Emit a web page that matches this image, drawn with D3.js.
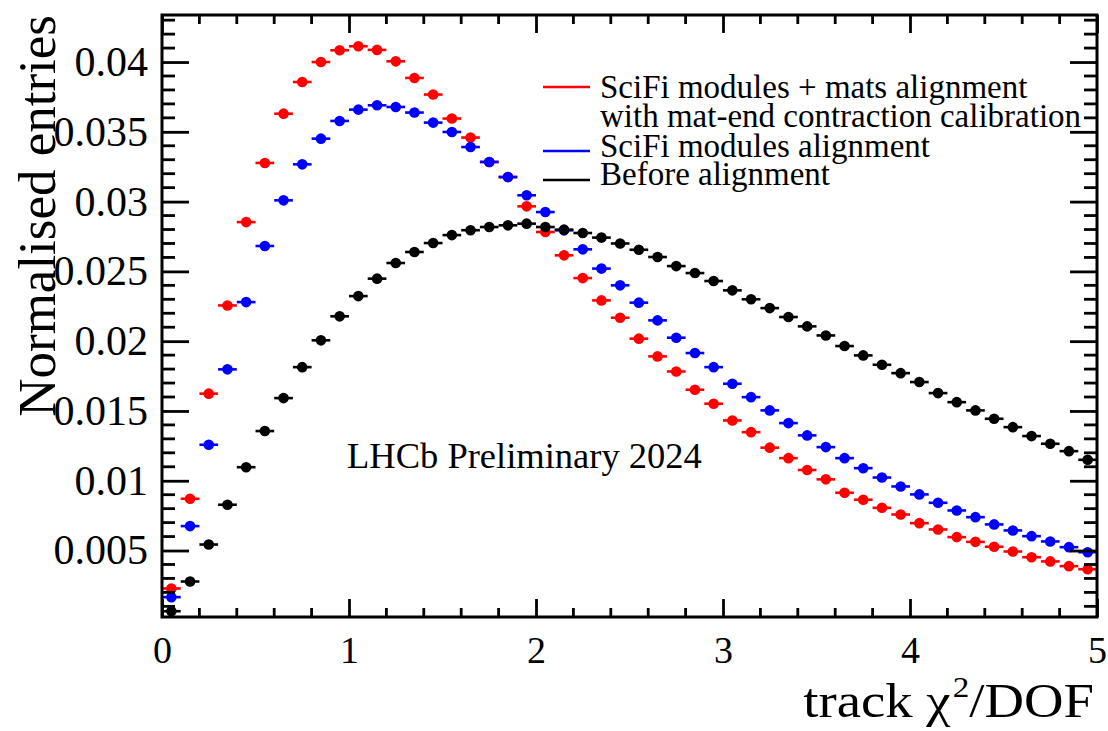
<!DOCTYPE html>
<html>
<head>
<meta charset="utf-8">
<script src="https://cdn.jsdelivr.net/npm/d3@7"></script>
<style>
  html, body { margin: 0; padding: 0; background: #fff; }
  svg { display: block; font-family: "Liberation Serif", "Times New Roman", serif; }
</style>
</head>
<body>
<svg id="chart" width="1108" height="731"></svg>
<script>
// Bin centres of the track chi2/DOF histogram (bin width 0.1)
const binCentres = [0.05, 0.15, 0.25, 0.35, 0.45, 0.55, 0.65, 0.75, 0.85, 0.95,
  1.05, 1.15, 1.25, 1.35, 1.45, 1.55, 1.65, 1.75, 1.85, 1.95,
  2.05, 2.15, 2.25, 2.35, 2.45, 2.55, 2.65, 2.75, 2.85, 2.95,
  3.05, 3.15, 3.25, 3.35, 3.45, 3.55, 3.65, 3.75, 3.85, 3.95,
  4.05, 4.15, 4.25, 4.35, 4.45, 4.55, 4.65, 4.75, 4.85, 4.95];
const binHalfWidth = 0.05;

// Normalised entries per bin
const matsAlignment = [0.00228, 0.00871, 0.01624, 0.02256, 0.02853, 0.03277, 0.03630, 0.03857, 0.04000, 0.04084,
  0.04113, 0.04087, 0.04005, 0.03886, 0.03767, 0.03595, 0.03459, 0.03284, 0.03176, 0.02966,
  0.02782, 0.02615, 0.02452, 0.02292, 0.02168, 0.02018, 0.01891, 0.01783, 0.01652, 0.01552,
  0.01432, 0.01348, 0.01237, 0.01162, 0.01077, 0.01010, 0.00914, 0.00864, 0.00806, 0.00758,
  0.00696, 0.00651, 0.00596, 0.00562, 0.00527, 0.00493, 0.00452, 0.00422, 0.00388, 0.00366];
const modulesAlignment = [0.00166, 0.00675, 0.01258, 0.01798, 0.02280, 0.02682, 0.03009, 0.03267, 0.03451, 0.03578,
  0.03659, 0.03690, 0.03678, 0.03638, 0.03566, 0.03499, 0.03391, 0.03284, 0.03176, 0.03045,
  0.02925, 0.02794, 0.02658, 0.02520, 0.02400, 0.02276, 0.02149, 0.02025, 0.01915, 0.01814,
  0.01695, 0.01599, 0.01504, 0.01413, 0.01325, 0.01241, 0.01162, 0.01090, 0.01023, 0.00959,
  0.00902, 0.00842, 0.00787, 0.00739, 0.00687, 0.00644, 0.00603, 0.00565, 0.00524, 0.00488];
const beforeAlignment = [0.00065, 0.00278, 0.00543, 0.00828, 0.01097, 0.01356, 0.01592, 0.01814, 0.02006, 0.02178,
  0.02323, 0.02448, 0.02560, 0.02639, 0.02703, 0.02760, 0.02795, 0.02818, 0.02830, 0.02842,
  0.02818, 0.02799, 0.02775, 0.02742, 0.02700, 0.02655, 0.02603, 0.02538, 0.02488, 0.02431,
  0.02364, 0.02300, 0.02237, 0.02173, 0.02106, 0.02041, 0.01965, 0.01898, 0.01831, 0.01771,
  0.01707, 0.01628, 0.01563, 0.01504, 0.01444, 0.01384, 0.01320, 0.01265, 0.01212, 0.01150];

// Axis ticks and labels
const xTicks = [0, 1, 2, 3, 4, 5];
const xTickLabels = ["0", "1", "2", "3", "4", "5"];
const xMinorStep = 0.2;
const yTicks = [0.005, 0.01, 0.015, 0.02, 0.025, 0.03, 0.035, 0.04];
const yTickLabels = ["0.005", "0.01", "0.015", "0.02", "0.025", "0.03", "0.035", "0.04"];
const yMinorStep = 0.001;
const xDomain = [0, 5];
const yDomain = [0.000237, 0.04337];

// Legend entries (drawn top to bottom)
const legendLabels = [["SciFi modules + mats alignment", "with mat-end contraction calibration"],
  ["SciFi modules alignment"], ["Before alignment"]];
const seriesColours = ["#ff0000", "#0000ff", "#000000"];
const seriesValues = [matsAlignment, modulesAlignment, beforeAlignment];

const svg = d3.select("#chart");
const frame = { left: 162, right: 1097, top: 15, bottom: 617 };

const x = d3.scaleLinear().domain(xDomain).range([frame.left, frame.right]);
const y = d3.scaleLinear().domain(yDomain).range([frame.bottom, frame.top]);

// --- data points: horizontal bin-width bars with filled circle markers
const plot = svg.append("g");
seriesValues.forEach((vals, si) => {
  const pts = binCentres.map((c, i) => ({ c, v: vals[i] }));
  const g = plot.append("g");
  g.selectAll("line").data(pts).join("line")
    .attr("x1", d => x(d.c - binHalfWidth))
    .attr("x2", d => x(d.c + binHalfWidth))
    .attr("y1", d => y(d.v))
    .attr("y2", d => y(d.v))
    .attr("stroke", seriesColours[si])
    .attr("stroke-width", 2.6);
  g.selectAll("circle").data(pts).join("circle")
    .attr("cx", d => x(d.c))
    .attr("cy", d => y(d.v))
    .attr("r", 5.3)
    .attr("fill", seriesColours[si]);
});

// --- axes (ticks on all four sides, pointing inwards)
const tickStroke = 2.8;
function styleAxis(g) {
  g.select(".domain").remove();
  g.selectAll(".tick line").attr("stroke", "#000").attr("stroke-width", tickStroke);
  g.selectAll(".tick text").attr("fill", "#000");
}

const xMinor = d3.range(0, 5.0001, xMinorStep).filter(v => !xTicks.some(t => Math.abs(t - v) < 1e-9));
const yMinor = d3.range(0.001, 0.0435, yMinorStep).filter(v => v > yDomain[0] && v < yDomain[1] && !yTicks.some(t => Math.abs(t - v) < 1e-9));

// bottom
svg.append("g").attr("transform", `translate(0,${frame.bottom})`)
  .call(d3.axisBottom(x).tickValues(xTicks).tickFormat((d, i) => xTickLabels[i]).tickSize(-18).tickPadding(19))
  .call(styleAxis)
  .call(g => g.selectAll(".tick text").attr("font-size", 38).attr("font-family", "Liberation Serif"));
svg.append("g").selectAll("line").data(xMinor).join("line")
  .attr("x1", d => x(d)).attr("x2", d => x(d))
  .attr("y1", frame.bottom).attr("y2", frame.bottom - 9)
  .attr("stroke", "#000").attr("stroke-width", tickStroke);
// top
svg.append("g").attr("transform", `translate(0,${frame.top})`)
  .call(d3.axisTop(x).tickValues(xTicks).tickFormat("").tickSize(-18))
  .call(styleAxis);
svg.append("g").selectAll("line").data(xMinor).join("line")
  .attr("x1", d => x(d)).attr("x2", d => x(d))
  .attr("y1", frame.top).attr("y2", frame.top + 9)
  .attr("stroke", "#000").attr("stroke-width", tickStroke);
// left
svg.append("g").attr("transform", `translate(${frame.left},0)`)
  .call(d3.axisLeft(y).tickValues(yTicks).tickFormat((d, i) => yTickLabels[i]).tickSize(-27).tickPadding(14))
  .call(styleAxis)
  .call(g => g.selectAll(".tick text").attr("font-size", 42).attr("font-family", "Liberation Serif"));
svg.append("g").selectAll("line").data(yMinor).join("line")
  .attr("x1", frame.left).attr("x2", frame.left + 13)
  .attr("y1", d => y(d)).attr("y2", d => y(d))
  .attr("stroke", "#000").attr("stroke-width", tickStroke);
// right
svg.append("g").attr("transform", `translate(${frame.right},0)`)
  .call(d3.axisRight(y).tickValues(yTicks).tickFormat("").tickSize(-27))
  .call(styleAxis);
svg.append("g").selectAll("line").data(yMinor).join("line")
  .attr("x1", frame.right).attr("x2", frame.right - 13)
  .attr("y1", d => y(d)).attr("y2", d => y(d))
  .attr("stroke", "#000").attr("stroke-width", tickStroke);

// frame
svg.append("rect")
  .attr("x", frame.left).attr("y", frame.top)
  .attr("width", frame.right - frame.left).attr("height", frame.bottom - frame.top)
  .attr("fill", "none").attr("stroke", "#000").attr("stroke-width", 3);

// --- axis titles
const xTitle = svg.append("text")
  .attr("transform", "translate(1094,717) scale(1.14,1)")
  .attr("text-anchor", "end").attr("font-size", 48).attr("fill", "#000");
xTitle.append("tspan").text("track \u03C7");
xTitle.append("tspan").attr("font-size", 29).attr("dy", -20).attr("dx", 2).text("2");
xTitle.append("tspan").attr("dy", 20).text("/DOF");

svg.append("text")
  .attr("transform", `translate(55,${frame.top}) rotate(-90)`)
  .attr("text-anchor", "end").attr("font-size", 53).attr("fill", "#000")
  .text("Normalised entries");

// --- legend
const legendRows = [
  { lineY: 87, textY: [98, 127] },
  { lineY: 151, textY: [157] },
  { lineY: 180, textY: [185] }
];
const legend = svg.append("g");
legendRows.forEach((row, i) => {
  legend.append("line")
    .attr("x1", 543).attr("x2", 590)
    .attr("y1", row.lineY).attr("y2", row.lineY)
    .attr("stroke", seriesColours[i]).attr("stroke-width", 2.6);
  legendLabels[i].forEach((t, j) => {
    legend.append("text")
      .attr("x", 600).attr("y", row.textY[j])
      .attr("font-size", 33).attr("fill", "#000")
      .text(t);
  });
});

// --- experiment label
svg.append("text")
  .attr("x", 347).attr("y", 468)
  .attr("font-size", 36.5).attr("fill", "#000")
  .text("LHCb Preliminary 2024");
</script>
</body>
</html>
